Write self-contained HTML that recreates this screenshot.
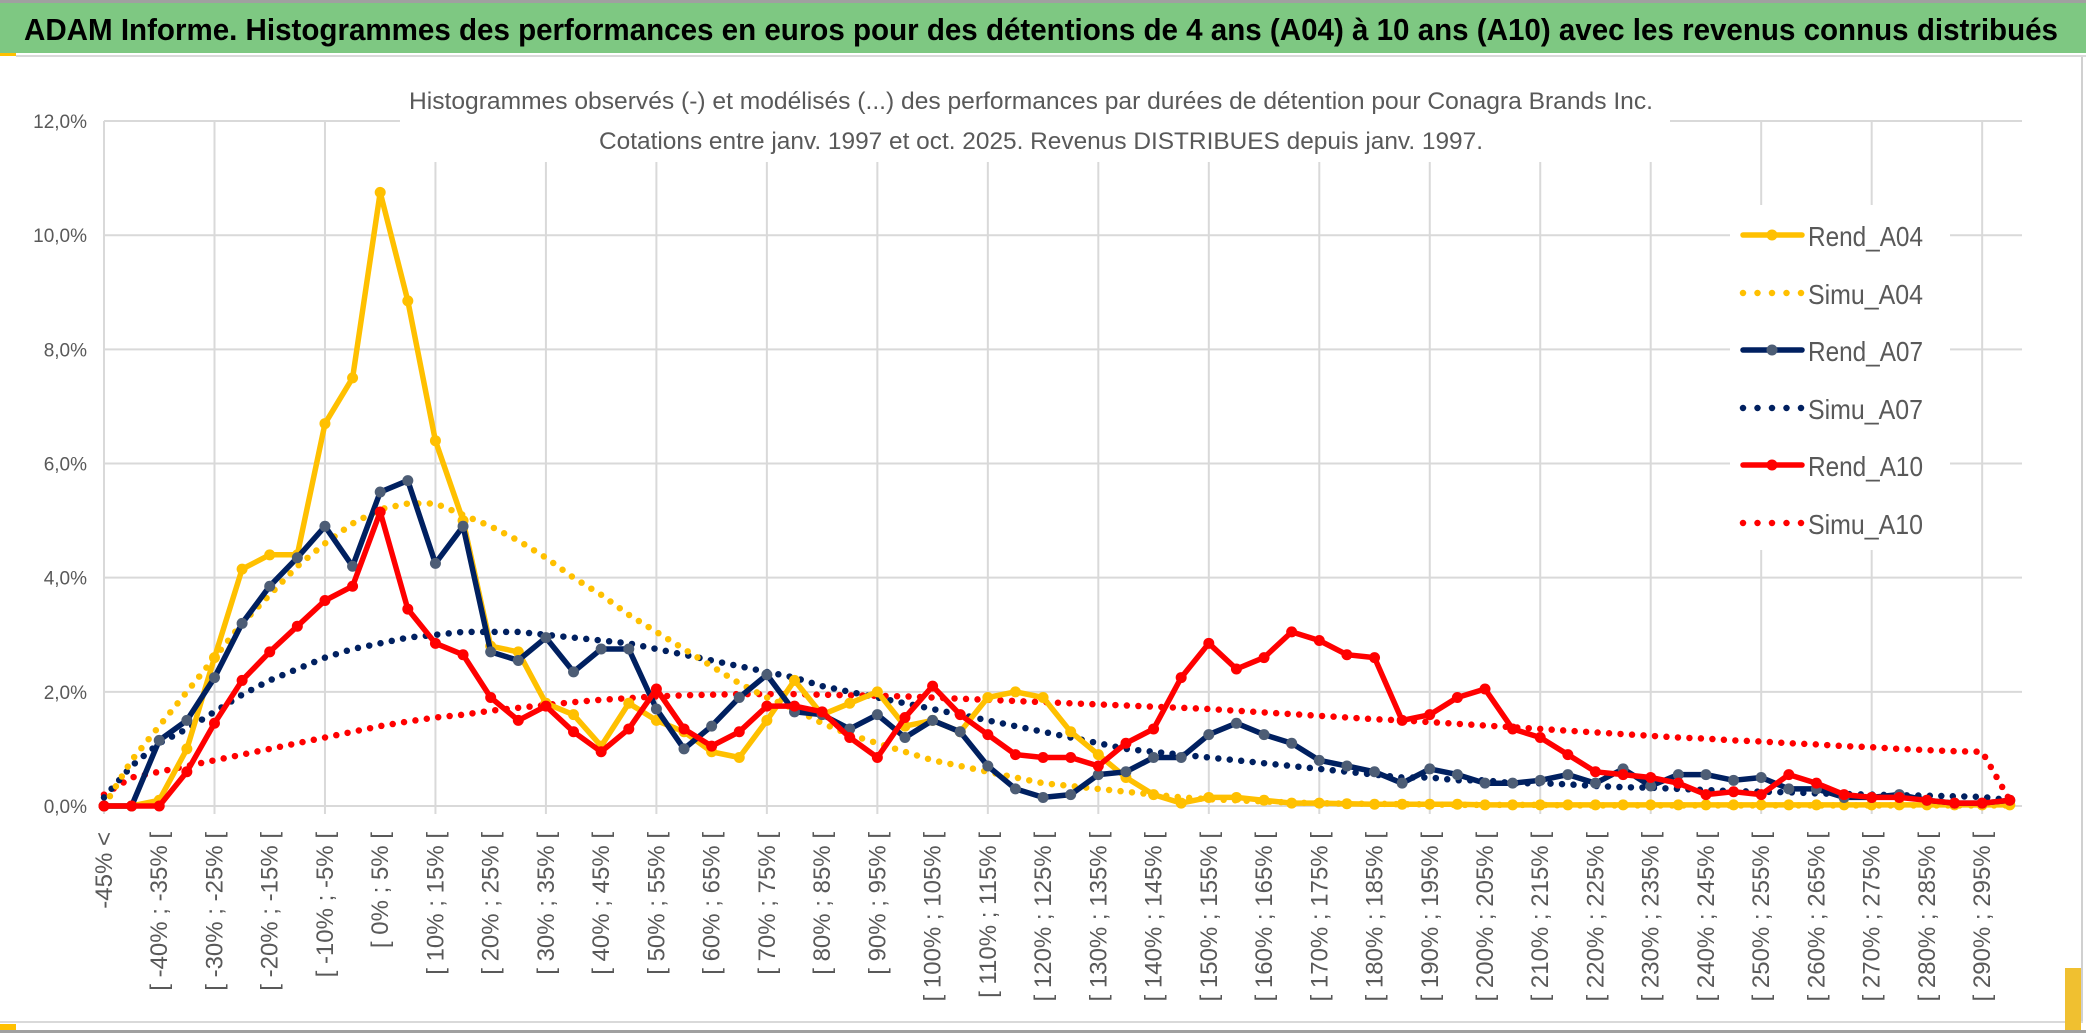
<!DOCTYPE html>
<html><head><meta charset="utf-8"><style>
html,body{margin:0;padding:0;background:#fff;}
svg{display:block;font-family:"Liberation Sans",sans-serif;}
</style></head><body>
<svg id="chart" width="2086" height="1033" viewBox="0 0 2086 1033" xmlns="http://www.w3.org/2000/svg">
<rect x="0" y="0" width="2086" height="1033" fill="#fff"/>
<rect x="0" y="0" width="2086" height="3" fill="#a0a0a0"/>
<rect x="0" y="3" width="2086" height="50" fill="#7ec882"/>
<rect x="0" y="53" width="16" height="3" fill="#ffc000"/>
<rect x="16" y="55" width="2070" height="2" fill="#d9d9d9"/>
<text x="24" y="40" font-size="31" font-weight="bold" fill="#000" textLength="2034" lengthAdjust="spacingAndGlyphs">ADAM Informe. Histogrammes des performances en euros pour des détentions de 4 ans (A04) à 10 ans (A10) avec les revenus connus distribués</text>
<rect x="2081" y="57" width="2" height="966" fill="#d0d0d0"/>
<rect x="0" y="1021" width="2083" height="2" fill="#d9d9d9"/>
<rect x="0" y="1030" width="2086" height="3" fill="#a0a0a0"/>
<rect x="0" y="1024" width="16" height="6" fill="#ffc000"/>
<rect x="2065" y="968" width="16" height="62" fill="#f0c030"/>
<g id="grid"></g>
<g id="ylabels"></g>
<g id="xlabels"></g>
<g id="series"></g>
<rect x="400" y="80" width="1270" height="82" fill="#fff"/>
<text x="1031" y="109" font-size="24" fill="#595959" text-anchor="middle" textLength="1244" lengthAdjust="spacingAndGlyphs">Histogrammes observés (-) et modélisés (...) des performances par durées de détention pour Conagra Brands Inc.</text>
<text x="1041" y="149" font-size="24" fill="#595959" text-anchor="middle" textLength="884" lengthAdjust="spacingAndGlyphs">Cotations entre janv. 1997 et oct. 2025. Revenus DISTRIBUES depuis janv. 1997.</text>
<g id="legend"></g>
</svg>
<script>
const rendA04=[0,0,0.1,1.0,2.6,4.15,4.4,4.4,6.7,7.5,10.75,8.85,6.4,5.0,2.8,2.7,1.8,1.6,1.05,1.8,1.5,1.3,0.95,0.85,1.5,2.2,1.6,1.8,2.0,1.4,1.5,1.3,1.9,2.0,1.9,1.3,0.9,0.5,0.2,0.05,0.15,0.15,0.1,0.05,0.05,0.04,0.03,0.03,0.03,0.03,0.02,0.02,0.02,0.02,0.02,0.02,0.02,0.02,0.02,0.02,0.02,0.02,0.02,0.02,0.02,0.02,0.02,0.02,0.02,0.02];
const simuA04=[0,0.8,1.4,2.0,2.6,3.2,3.7,4.2,4.6,4.95,5.2,5.3,5.3,5.1,4.9,4.65,4.35,4.0,3.7,3.35,3.05,2.75,2.45,2.15,1.9,1.7,1.45,1.25,1.1,0.95,0.8,0.7,0.6,0.5,0.4,0.35,0.3,0.25,0.2,0.15,0.12,0.1,0.08,0.06,0.05,0.04,0.04,0.03,0.03,0.02,0.02,0.02,0.02,0.01,0.01,0.01,0.01,0.01,0.01,0.01,0.01,0.01,0.01,0.01,0.01,0.01,0.01,0.01,0.01,0.01];
const rendA07=[0,0,1.15,1.5,2.25,3.2,3.85,4.35,4.9,4.2,5.5,5.7,4.25,4.9,2.7,2.55,2.95,2.35,2.75,2.75,1.7,1.0,1.4,1.9,2.3,1.65,1.6,1.35,1.6,1.2,1.5,1.3,0.7,0.3,0.15,0.2,0.55,0.6,0.85,0.85,1.25,1.45,1.25,1.1,0.8,0.7,0.6,0.4,0.65,0.55,0.4,0.4,0.45,0.55,0.4,0.65,0.35,0.55,0.55,0.45,0.5,0.3,0.3,0.15,0.15,0.2,0.1,0.05,0.05,0.1];
const simuA07=[0.15,0.7,1.1,1.35,1.65,1.95,2.2,2.4,2.6,2.75,2.85,2.95,3.0,3.05,3.05,3.05,3.0,2.95,2.9,2.85,2.75,2.65,2.55,2.45,2.35,2.25,2.1,2.0,1.9,1.8,1.7,1.6,1.5,1.4,1.3,1.2,1.1,1.0,0.95,0.9,0.85,0.8,0.75,0.7,0.65,0.6,0.55,0.5,0.5,0.45,0.45,0.4,0.4,0.38,0.35,0.33,0.32,0.3,0.28,0.26,0.25,0.24,0.22,0.21,0.2,0.19,0.18,0.17,0.16,0.1];
const rendA10=[0,0,0,0.6,1.45,2.2,2.7,3.15,3.6,3.85,5.15,3.45,2.85,2.65,1.9,1.5,1.75,1.3,0.95,1.35,2.05,1.35,1.05,1.3,1.75,1.75,1.65,1.2,0.85,1.55,2.1,1.6,1.25,0.9,0.85,0.85,0.7,1.1,1.35,2.25,2.85,2.4,2.6,3.05,2.9,2.65,2.6,1.5,1.6,1.9,2.05,1.35,1.2,0.9,0.6,0.55,0.5,0.4,0.2,0.25,0.2,0.55,0.4,0.2,0.15,0.15,0.1,0.05,0.05,0.1];
const simuA10=[0.2,0.5,0.6,0.7,0.8,0.9,1.0,1.1,1.2,1.3,1.4,1.48,1.55,1.6,1.67,1.72,1.77,1.82,1.86,1.89,1.92,1.94,1.95,1.96,1.96,1.96,1.95,1.94,1.93,1.92,1.9,1.88,1.86,1.84,1.82,1.8,1.78,1.76,1.74,1.72,1.7,1.67,1.64,1.61,1.58,1.55,1.52,1.5,1.47,1.44,1.41,1.38,1.35,1.32,1.29,1.26,1.23,1.2,1.18,1.15,1.13,1.1,1.08,1.05,1.03,1.0,0.98,0.96,0.95,0.1];
const yTicks=[0,2,4,6,8,10,12];
const yTickLabels=["0,0%","2,0%","4,0%","6,0%","8,0%","10,0%","12,0%"];
const seriesNames=["Rend_A04","Simu_A04","Rend_A07","Simu_A07","Rend_A10","Simu_A10"];
const NC=70;
const catLabels=[];
catLabels.push("-45% <");
for(let k=1;k<NC;k++){const a=-45+5*(k-1);catLabels.push("[ "+a+"% ; "+(a+5)+"% [");}

const NS="http://www.w3.org/2000/svg";
const X0=104,DX=27.62,Y0=806,PY=57.08;
const xs=k=>X0+k*DX;
const ys=v=>Y0-v*PY;
function mk(tag,attrs,parent){const e=document.createElementNS(NS,tag);for(const k in attrs)e.setAttribute(k,attrs[k]);parent.appendChild(e);return e;}

const grid=document.getElementById('grid');
for(let k=0;k<NC;k+=4){
  const l=mk('line',{x1:xs(k),x2:xs(k),y1:ys(12),y2:Y0+8,stroke:'#d9d9d9','stroke-width':2},grid);
  
  
}
const yl=document.getElementById('ylabels');
yTicks.forEach((t,i)=>{
  const l=mk('line',{x1:X0,x2:2022,y1:ys(t),y2:ys(t),stroke:'#d9d9d9','stroke-width':2},grid);
  
  
  const tx=mk('text',{x:87,y:ys(t)+7,'font-size':19,fill:'#595959','text-anchor':'end'},yl);
  tx.textContent=yTickLabels[i];
  
  
});
const xl=document.getElementById('xlabels');
for(let k=0;k<NC;k+=2){
  const x=xs(k)+8,y=832;
  const tx=mk('text',{x:x,y:y,'font-size':24,fill:'#595959','text-anchor':'end',transform:`rotate(-90 ${x} ${y})`},xl);
  tx.textContent=catLabels[k];
  
  
}
const sg=document.getElementById('series');
function pts(arr){return arr.map((v,k)=>xs(k).toFixed(1)+','+ys(v).toFixed(1)).join(' ');}
function dotted(arr,color,name){
  const p=mk('polyline',{points:pts(arr),fill:'none',stroke:color,'stroke-width':6.5,'stroke-linecap':'round','stroke-dasharray':'0 11.5'},sg);
  
  
}
function solid(arr,color,mcolor,name){
  const p=mk('polyline',{points:pts(arr),fill:'none',stroke:color,'stroke-width':5.5,'stroke-linejoin':'round'},sg);
  
  
  arr.forEach((v,k)=>{
    const c=mk('circle',{cx:xs(k),cy:ys(v),r:5.5,fill:mcolor},sg);
    
    
  });
}
dotted(simuA10,'#ff0000','simu-a10-line');
dotted(simuA07,'#002060','simu-a07-line');
dotted(simuA04,'#ffc000','simu-a04-line');
solid(rendA04,'#ffc000','#ffc000','rend-a04-line');
solid(rendA07,'#002060','#4d5d75','rend-a07-line');
solid(rendA10,'#ff0000','#ff0000','rend-a10-line');

const lg=document.getElementById('legend');
const lbg=mk('rect',{x:1730,y:205,width:220,height:345,fill:'#fff'},lg);


const legStyles=[['#ffc000','#ffc000',0],['#ffc000','',1],['#002060','#4d5d75',0],['#002060','',1],['#ff0000','#ff0000',0],['#ff0000','',1]];
const legY=[235,293,350,408,465,523];
seriesNames.forEach((n,i)=>{
  const y=legY[i],s=legStyles[i];
  const g=mk('g',{},lg);
  
  
  if(s[2]){
    mk('line',{x1:1743,x2:1802,y1:y,y2:y,stroke:s[0],'stroke-width':6.5,'stroke-linecap':'round','stroke-dasharray':'0 14.5'},g);
  }else{
    mk('line',{x1:1743,x2:1802,y1:y,y2:y,stroke:s[0],'stroke-width':5.5,'stroke-linecap':'round'},g);
    mk('circle',{cx:1772,cy:y,r:5.5,fill:s[1]},g);
  }
  const t=mk('text',{x:1808,y:y+11,'font-size':28,fill:'#595959',textLength:115,lengthAdjust:'spacingAndGlyphs'},g);
  t.textContent=n;
});
</script>
</body></html>
